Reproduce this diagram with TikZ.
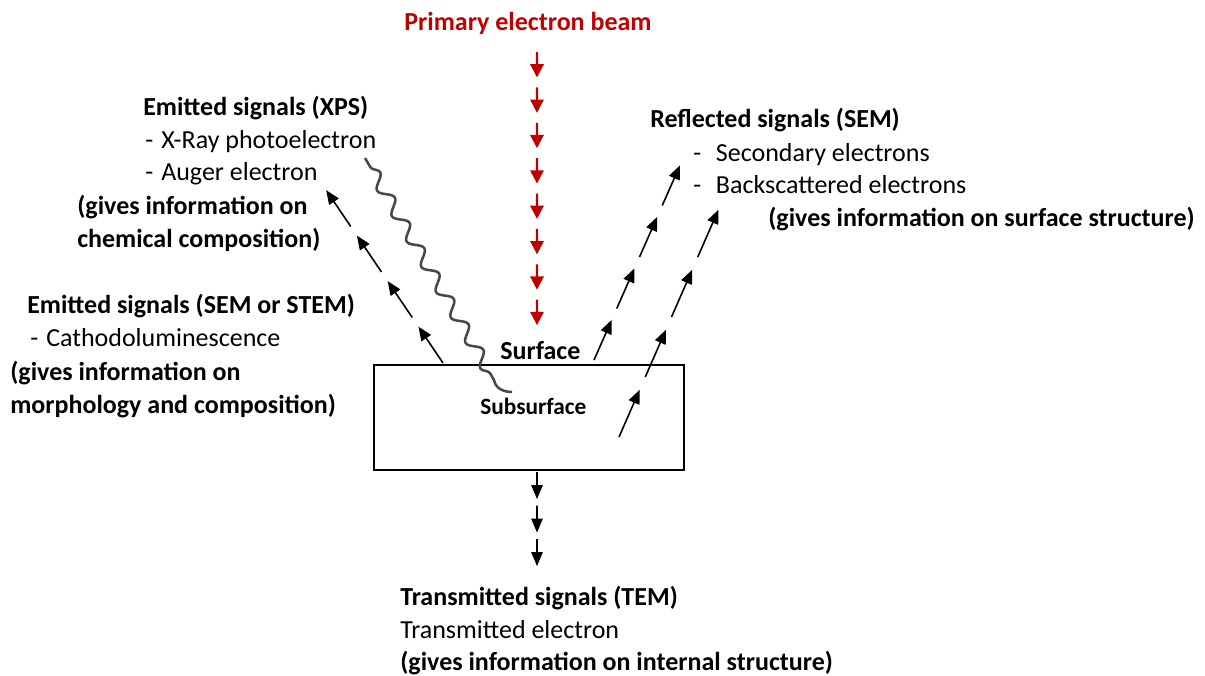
\documentclass[tikz,border=0pt]{standalone}
\usepackage{fontspec}
\setmainfont{Carlito}
\usepackage{xcolor}
\usetikzlibrary{arrows.meta}
\usetikzlibrary{calc}
\usetikzlibrary{decorations.pathmorphing}

\definecolor{beamred}{RGB}{192,0,0}
\definecolor{wavegray}{RGB}{72,72,72}
\newcommand\lblsize{\fontsize{19.5}{23}\selectfont}

\tikzset{
  txt/.style={anchor=base west, inner sep=0pt, font=\lblsize},
  hd/.style={txt, font=\lblsize\bfseries},
  sig/.style={line width=1.2pt, -{Triangle[length=10.5pt,width=8.5pt]}},
  beam/.style={color=beamred, line width=1.6pt, -{Triangle[length=10pt,width=10pt]}},
}

\begin{document}
\begin{tikzpicture}[x=0.75pt,y=-0.75pt]
\useasboundingbox (0,0) rectangle (1205,675);

% specimen
\node[draw, line width=1.1pt, minimum width=232.5pt, minimum height=78.75pt, inner sep=0pt] (spec) at (529,417.5) {};
\node[hd] (surf) at (500,359) {Surface};
\node[hd, font=\fontsize{17.5}{21}\selectfont\bfseries] (subsurf) at (480,414) {Subsurface};

% primary beam
\node[hd, text=beamred, anchor=base] (beamlbl) at (528,30) {Primary electron beam};
\coordinate (bT) at (537,52);
\coordinate (bB) at (537,335);
\foreach \i in {0,...,7}
  \draw[beam] ($(bT)!{\i/8}!(bB)$) -- ($(bT)!{\i/8+0.09}!(bB)$);

% emitted (XPS)
\node[hd] (xps) at (143,115) {Emitted signals (XPS)};
\node[txt] (xray) at (145,148) {\makebox[12pt][l]{-}X-Ray photoelectron};
\node[txt] (auger) at (145,180) {\makebox[12pt][l]{-}Auger electron};
\node[hd] (xpsinfo) at (77,214) {(gives information on};
\node[hd] (xpsinfo2) at (77,247) {chemical composition)};

% emitted (SEM or STEM)
\node[hd] (cl) at (27,313) {Emitted signals (SEM or STEM)};
\node[txt] (cathodo) at (30,346) {\makebox[12pt][l]{-}Cathodoluminescence};
\node[hd] (clinfo) at (10,380) {(gives information on};
\node[hd] (clinfo2) at (10,413) {morphology and composition)};

% reflected (SEM)
\node[hd] (sem) at (650,127) {Reflected signals (SEM)};
\node[txt] (se) at (693,161) {\makebox[17pt][l]{-}Secondary electrons};
\node[txt] (bse) at (693,193) {\makebox[17pt][l]{-}Backscattered electrons};
\node[hd] (seminfo) at (768,226) {(gives information on surface structure)};

% transmitted (TEM)
\node[hd] (tem) at (400,605) {Transmitted signals (TEM)};
\node[txt] (te) at (400,638) {Transmitted electron};
\node[hd] (teminfo) at (400,670) {(gives information on internal structure)};

% signal arrows
\coordinate (eA) at (443,363);
\coordinate (eB) at (320,181);
\foreach \i in {0,...,3}
  \draw[sig] ($(eA)!{\i/4}!(eB)$) -- ($(eA)!{\i/4+0.2}!(eB)$);

\coordinate (sA) at (594,360);
\coordinate (sB) at (685,154);
\foreach \i in {0,...,3}
  \draw[sig] ($(sA)!{\i/4}!(sB)$) -- ($(sA)!{\i/4+0.195}!(sB)$);

\coordinate (bsA) at (619,437);
\coordinate (bsB) at (724,197);
\foreach \i in {0,...,3}
  \draw[sig] ($(bsA)!{\i/4}!(bsB)$) -- ($(bsA)!{\i/4+0.197}!(bsB)$);

\coordinate (tA) at (537,472);
\coordinate (tB) at (537,572.5);
\foreach \i in {0,...,2}
  \draw[sig] ($(tA)!{\i/3}!(tB)$) -- ($(tA)!{\i/3+0.27}!(tB)$);

% photoelectron wave
\coordinate (wS) at (365,158);
\coordinate (wE) at (494,380);
\coordinate (wT) at (512,392);
\draw[wavegray, line width=1.9pt, decoration={snake, amplitude=4.5pt, segment length=22pt, pre length=8pt, post length=4pt}]
  decorate {(wS) -- (wE)} to[out=-80, in=180] (wT);

\end{tikzpicture}
\end{document}
